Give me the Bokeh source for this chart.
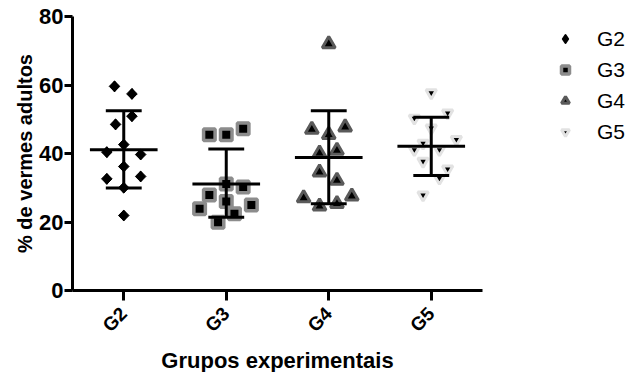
import math
from bokeh.plotting import figure
from bokeh.models import Range1d, FixedTicker, Legend, LegendItem, ColumnDataSource
from bokeh.embed import file_html
from bokeh.resources import INLINE

groups = ["G2", "G3", "G4", "G5"]

g2_vals = [59.6, 57.4, 50.9, 48.5, 42.6, 40.4, 39.7, 36.2, 32.6, 33.3, 30.0, 21.9]
g2_jit = [-0.09, 0.08, 0.08, -0.08, 0.0, -0.165, 0.165, 0.0, -0.165, 0.165, 0.0, 0.0]
g3_vals = [45.5, 45.5, 47.2, 31.1, 30.2, 27.9, 26.0, 23.9, 25.0, 22.4, 19.9]
g3_jit = [-0.165, 0.0, 0.165, 0.0, 0.165, -0.165, 0.0, -0.26, 0.245, 0.08, -0.08]
g4_vals = [72.0, 47.0, 47.7, 45.5, 40.1, 40.9, 34.5, 32.1, 27.0, 27.5, 24.6, 25.3]
g4_jit = [0.0, -0.165, 0.16, 0.0, -0.09, 0.08, -0.09, 0.08, -0.245, 0.225, -0.09, 0.08]
g5_vals = [57.7, 50.3, 51.8, 47.4, 44.1, 43.0, 41.1, 41.1, 37.7, 35.5, 32.8, 27.9]
g5_jit = [0.0, -0.165, 0.16, 0.0, 0.245, -0.08, -0.165, 0.08, -0.08, 0.16, 0.08, -0.08]

means = [41.1, 31.1, 38.8, 42.1]
sd_hi = [52.5, 41.3, 52.5, 50.6]
sd_lo = [29.9, 21.4, 25.3, 33.6]

FONT = "Liberation Sans"

p = figure(output_backend="svg", toolbar_location=None,
           frame_width=410, frame_height=274,
           min_border_left=72, min_border_top=16, min_border_bottom=74,
           min_border_right=131,
           x_range=Range1d(0, 4), y_range=Range1d(0, 80))
p.outline_line_color = None
p.xgrid.visible = False
p.ygrid.visible = False
p.background_fill_color = "white"
p.border_fill_color = "white"

for ax in (p.xaxis[0], p.yaxis[0]):
    ax.axis_line_width = 3
    ax.axis_line_color = "black"
    ax.major_tick_line_width = 3
    ax.major_tick_line_color = "black"
    ax.major_tick_out = 10
    ax.major_tick_in = 0
    ax.minor_tick_line_color = None
    ax.major_label_text_font = FONT
    ax.major_label_text_font_style = "bold"
    ax.major_label_text_color = "black"
    ax.axis_label_text_font = FONT
    ax.axis_label_text_font_style = "bold"
    ax.axis_label_text_color = "black"

p.yaxis.ticker = FixedTicker(ticks=[0, 20, 40, 60, 80])
p.yaxis.major_tick_out = 8
p.yaxis.major_label_text_font_size = "22px"
p.yaxis.major_label_standoff = 1
p.yaxis.axis_label = "% de vermes adultos"
p.yaxis.axis_label_text_font_size = "20px"
p.yaxis.axis_label_standoff = 0

p.xaxis.ticker = FixedTicker(ticks=[i + 0.5 for i in range(len(groups))])
p.xaxis.major_label_overrides = {i + 0.5: g for i, g in enumerate(groups)}
p.xaxis.major_label_orientation = math.pi / 4
p.xaxis.major_label_text_font_size = "19px"
p.xaxis.major_label_standoff = 10
p.xaxis.axis_label = "Grupos experimentais"
p.xaxis.axis_label_text_font_size = "22px"
p.xaxis.axis_label_standoff = 2

styles = [
    dict(marker="square", angle=math.pi / 4, size=7.5, fill_color="black", line_color="black", line_width=1),
    dict(marker="square", size=11.5, fill_color="black", line_color="#8c8c8c", line_width=3.5),
    dict(marker="triangle", size=13, fill_color="black", line_color="#5a5a5a", line_width=3),
    dict(marker="inverted_triangle", size=10.5, fill_color="black", line_color="#e2e2e2", line_width=3),
]
all_vals = [g2_vals, g3_vals, g4_vals, g5_vals]
all_jit = [g2_jit, g3_jit, g4_jit, g5_jit]

sources = [ColumnDataSource(dict(x=[i + 0.5 + j for j in jit], y=vals))
           for i, (vals, jit) in enumerate(zip(all_vals, all_jit))]

# diamond drawn under the rotated squares of G2; it supplies the legend glyph
leg_g2 = p.scatter("x", "y", source=sources[0], marker="diamond", size=9, fill_color="black",
                   line_color="black", line_width=2, line_join="round")

renderers = []
for src, st in zip(sources, styles):
    renderers.append(p.scatter("x", "y", source=src, **st))
legend_renderers = [leg_g2] + renderers[1:]

cx = [i + 0.5 for i in range(len(groups))]
p.segment(x0=[c - 0.33 for c in cx], x1=[c + 0.33 for c in cx], y0=means, y1=means,
          line_color="black", line_width=3)
p.segment(x0=cx, x1=cx, y0=sd_lo, y1=sd_hi, line_color="black", line_width=3)
p.segment(x0=[c - 0.175 for c in cx], x1=[c + 0.175 for c in cx], y0=sd_hi, y1=sd_hi,
          line_color="black", line_width=3)
p.segment(x0=[c - 0.175 for c in cx], x1=[c + 0.175 for c in cx], y0=sd_lo, y1=sd_lo,
          line_color="black", line_width=3)

legend = Legend(items=[LegendItem(label=g, renderers=[r]) for g, r in zip(groups, legend_renderers)],
                location=(73, 146), orientation="vertical")
legend.margin = 0
legend.padding = 0
legend.border_line_color = None
legend.background_fill_alpha = 0
legend.glyph_width = 20
legend.glyph_height = 25
legend.label_height = 25
legend.spacing = 6
legend.label_standoff = 22
legend.label_text_font = FONT
legend.label_text_font_size = "21px"
legend.label_text_color = "black"
legend.label_text_baseline = "middle"
p.add_layout(legend, "right")

open("out.html", "w").write(file_html(p, INLINE))
